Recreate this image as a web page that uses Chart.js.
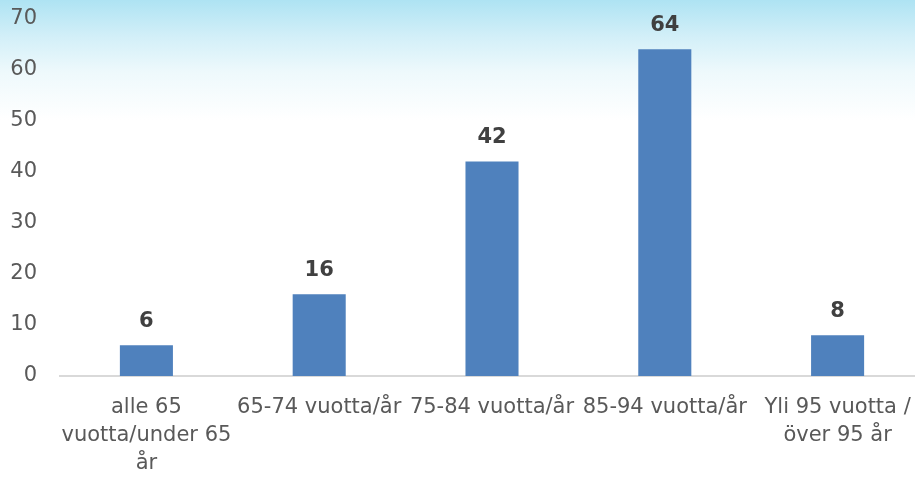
<!DOCTYPE html>
<html>
<head>
<meta charset="utf-8">
<script src="https://cdn.jsdelivr.net/npm/chart.js@4.4.0/dist/chart.umd.min.js"></script>
<style>
html, body { margin: 0; padding: 0; overflow: hidden; background: #fff; }
#wrap { width: 925px; height: 495px; position: relative; margin-top: -17px; }
</style>
</head>
<body>
<div id="wrap"><canvas id="c"></canvas></div>
<script>
const categories = [
  ["alle 65", "vuotta/under 65", "år"],
  "65-74 vuotta/år",
  "75-84 vuotta/år",
  "85-94 vuotta/år",
  ["Yli 95 vuotta /", "över 95 år"]
];
const values = [6, 16, 42, 64, 8];
const yTicks = [0, 10, 20, 30, 40, 50, 60, 70];

const SHIFT = 17;
const bgPlugin = {
  id: 'bg',
  beforeDraw(chart) {
    const ctx = chart.ctx;
    const g = ctx.createLinearGradient(0, SHIFT, 0, SHIFT + 120);
    g.addColorStop(0, 'rgb(174,227,243)');
    g.addColorStop(0.3, 'rgb(210,239,248)');
    g.addColorStop(0.6, 'rgb(238,249,252)');
    g.addColorStop(1, 'rgb(255,255,255)');
    ctx.save();
    ctx.fillStyle = '#ffffff';
    ctx.fillRect(0, 0, chart.width, chart.height);
    ctx.fillStyle = g;
    ctx.fillRect(0, 0, chart.width, SHIFT + 120);
    ctx.restore();
  }
};

const labelPlugin = {
  id: 'vlabels',
  afterDatasetsDraw(chart) {
    const ctx = chart.ctx;
    const meta = chart.getDatasetMeta(0);
    ctx.save();
    ctx.font = 'bold 21px "DejaVu Sans"';
    ctx.fillStyle = '#404040';
    ctx.textAlign = 'center';
    ctx.textBaseline = 'middle';
    meta.data.forEach((bar, i) => {
      ctx.fillText(String(values[i]), bar.x, bar.y - 24);
    });
    ctx.restore();
  }
};

new Chart(document.getElementById('c'), {
  type: 'bar',
  data: {
    labels: categories,
    datasets: [{
      data: values,
      backgroundColor: '#4f81bd',
      borderWidth: 0,
      barPercentage: 0.307,
      categoryPercentage: 1
    }]
  },
  options: {
    responsive: true,
    maintainAspectRatio: false,
    animation: false,
    layout: { padding: { top: 0, right: 1, left: 0, bottom: 0 } },
    plugins: { legend: { display: false }, tooltip: { enabled: false } },
    scales: {
      x: {
        grid: { display: false },
        border: { display: true, color: '#d9d9d9', width: 2 },
        ticks: {
          color: '#595959',
          font: { family: '"DejaVu Sans"', size: 21, lineHeight: 1.33 },
          padding: 10,
          maxRotation: 0,
          autoSkip: false
        },
        afterFit(scale) { scale.height = 102; }
      },
      y: {
        min: 0,
        max: 70,
        grid: { display: false, drawTicks: false },
        border: { display: false },
        afterBuildTicks(scale) { scale.ticks = yTicks.map(v => ({ value: v })); },
        ticks: {
          color: '#595959',
          font: { family: '"DejaVu Sans"', size: 21 },
          padding: 23
        },
        afterFit(scale) { scale.width = 60; }
      }
    }
  },
  plugins: [bgPlugin, labelPlugin]
});
</script>
</body>
</html>
